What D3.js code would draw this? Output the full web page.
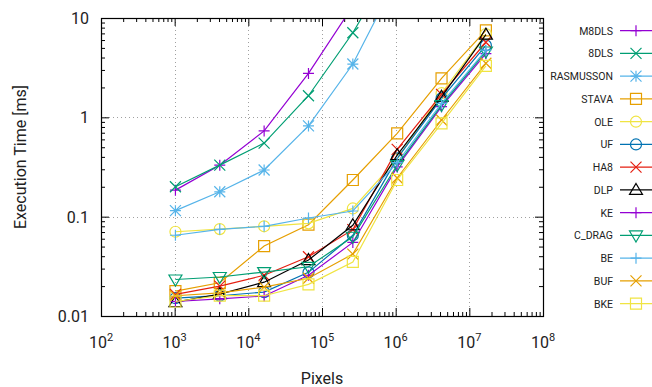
<!DOCTYPE html>
<html>
<head>
<meta charset="utf-8">
<script src="https://cdn.jsdelivr.net/npm/d3@7"></script>
<style>
  body { margin: 0; background: #fff; }
  svg { font-family: Roboto, "Liberation Sans", sans-serif; }
</style>
</head>
<body>
<script>
// image sizes (pixels) used for every benchmark run
var pixels = [1024, 4096, 16384, 65536, 262144, 1048576, 4194304, 16777216];

// execution times in ms (values above 10 run off the top)
var m8dls     = [0.185, 0.33, 0.73, 2.77, 13.2];
var dls8      = [0.20, 0.33, 0.55, 1.65, 7.1, 41];
var rasmusson = [0.115, 0.178, 0.295, 0.82, 3.44, 25.5];
var stava     = [0.0178, 0.0216, 0.0506, 0.083, 0.234, 0.69, 2.47, 7.5];
var ole       = [0.0705, 0.075, 0.080, 0.0857, 0.121, 0.38, 1.75, 6.9];
var uf        = [0.0151, 0.016, 0.0174, 0.0275, 0.065, 0.386, 1.55, 5.3];
var ha8       = [0.0165, 0.020, 0.0257, 0.0395, 0.074, 0.476, 1.70, 5.7];
var dlp       = [0.0138, 0.0166, 0.0219, 0.0366, 0.082, 0.417, 1.61, 6.8];
var ke        = [0.014, 0.0149, 0.0159, 0.0257, 0.055, 0.317, 1.28, 4.37];
var cdrag     = [0.0233, 0.0247, 0.0277, 0.0313, 0.0628, 0.331, 1.33, 4.6];
var be        = [0.065, 0.0746, 0.080, 0.097, 0.114, 0.35, 1.38, 4.75];
var buf       = [0.016, 0.0171, 0.0195, 0.024, 0.042, 0.245, 0.94, 3.5];
var bke       = [0.014, 0.016, 0.016, 0.0208, 0.035, 0.234, 0.87, 3.3];

var names = ['M8DLS', '8DLS', 'RASMUSSON', 'STAVA', 'OLE', 'UF', 'HA8', 'DLP', 'KE', 'C_DRAG', 'BE', 'BUF', 'BKE'];
var values = [m8dls, dls8, rasmusson, stava, ole, uf, ha8, dlp, ke, cdrag, be, buf, bke];

// gnuplot default palette, cycling
var colors = ['#9400d3', '#009e73', '#56b4e9', '#e69f00', '#f0e442', '#0072b2', '#e51e10', '#000000',
	'#9400d3', '#009e73', '#56b4e9', '#e69f00', '#f0e442'];
var symbols = ['plus', 'cross', 'star', 'square', 'circle', 'circle', 'cross', 'triup',
	'plus', 'tridown', 'plus', 'cross', 'square'];

var xTicks = [1e2, 1e3, 1e4, 1e5, 1e6, 1e7, 1e8];
var yTicks = [0.01, 0.1, 1, 10];
var yTickLabels = ['0.01', '0.1', '1', '10'];

var width = 652, height = 387;
// plot box (note: "top" would clash with window.top)
var pLeft = 101, pRight = 543, pTop = 18, pBottom = 316;

var x = d3.scaleLog().domain([1e2, 1e8]).range([pLeft, pRight]);
var y = d3.scaleLog().domain([0.01, 10]).range([pBottom, pTop]);

var svg = d3.select('body').append('svg')
	.attr('width', width)
	.attr('height', height);

svg.append('defs').append('clipPath').attr('id', 'plot')
	.append('rect')
	.attr('x', pLeft).attr('y', pTop)
	.attr('width', pRight - pLeft).attr('height', pBottom - pTop);

// dotted grid on the inner decades
var grid = svg.append('g')
	.attr('stroke', '#a0a0a0')
	.attr('stroke-width', 1)
	.attr('stroke-dasharray', '1,3');
grid.selectAll('.gx').data(xTicks.slice(1, -1)).enter().append('line')
	.attr('x1', function(d) { return Math.round(x(d)) + 0.5; })
	.attr('x2', function(d) { return Math.round(x(d)) + 0.5; })
	.attr('y1', pTop).attr('y2', pBottom);
grid.selectAll('.gy').data(yTicks.slice(1, -1)).enter().append('line')
	.attr('y1', function(d) { return Math.round(y(d)) + 0.5; })
	.attr('y2', function(d) { return Math.round(y(d)) + 0.5; })
	.attr('x1', pLeft).attr('x2', pRight);

// minor tick positions 2..9 per decade
function minors(lo, hi) {
	var out = [];
	for (var e = lo; e < hi; e++)
		for (var m = 2; m <= 9; m++) out.push(m * Math.pow(10, e));
	return out;
}

// inward ticks on all four sides, like gnuplot mirror
function tickAxis(axisFn, scale, vals, size, tx, ty) {
	var g = svg.append('g')
		.attr('transform', 'translate(' + tx + ',' + ty + ')')
		.call(axisFn(scale).tickValues(vals).tickSizeInner(-size).tickSizeOuter(0).tickFormat(''));
	g.select('.domain').remove();
	g.selectAll('line').attr('stroke', '#000');
}
tickAxis(d3.axisBottom, x, xTicks, 8, 0, pBottom);
tickAxis(d3.axisBottom, x, minors(2, 8), 4, 0, pBottom);
tickAxis(d3.axisTop, x, xTicks, 8, 0, pTop);
tickAxis(d3.axisTop, x, minors(2, 8), 4, 0, pTop);
tickAxis(d3.axisLeft, y, yTicks, 8, pLeft, 0);
tickAxis(d3.axisLeft, y, minors(-2, 1), 4, pLeft, 0);
tickAxis(d3.axisRight, y, yTicks, 8, pRight, 0);
tickAxis(d3.axisRight, y, minors(-2, 1), 4, pRight, 0);

// series lines and points
var line = d3.line()
	.x(function(d, i) { return x(pixels[i]); })
	.y(function(d) { return y(d); });

function symbolPath(type) {
	var s = 5.5;
	switch (type) {
		case 'plus': return 'M' + (-s) + ',0H' + s + 'M0,' + (-s) + 'V' + s;
		case 'cross': return 'M' + (-s) + ',' + (-s) + 'L' + s + ',' + s + 'M' + (-s) + ',' + s + 'L' + s + ',' + (-s);
		case 'star': return 'M' + (-s) + ',0H' + s + 'M0,' + (-s) + 'V' + s +
			'M' + (-s) + ',' + (-s) + 'L' + s + ',' + s + 'M' + (-s) + ',' + s + 'L' + s + ',' + (-s);
		case 'square': return 'M' + (-s) + ',' + (-s) + 'H' + s + 'V' + s + 'H' + (-s) + 'Z';
		case 'circle': return 'M' + s + ',0A' + s + ',' + s + ' 0 1,1 ' + (-s) + ',0A' + s + ',' + s + ' 0 1,1 ' + s + ',0Z';
		case 'triup': return 'M0,' + (-s - 1) + 'L' + (s + 1) + ',' + (s - 1) + 'H' + (-s - 1) + 'Z';
		case 'tridown': return 'M0,' + (s + 1) + 'L' + (s + 1) + ',' + (-s + 1) + 'H' + (-s - 1) + 'Z';
	}
}

var plot = svg.append('g').attr('clip-path', 'url(#plot)');
values.forEach(function(vals, k) {
	var g = plot.append('g');
	g.append('path')
		.datum(vals)
		.attr('d', line)
		.attr('fill', 'none')
		.attr('stroke', colors[k])
		.attr('stroke-width', 1.2);
	g.selectAll('path.pt').data(vals).enter().append('path')
		.attr('class', 'pt')
		.attr('transform', function(d, i) { return 'translate(' + x(pixels[i]) + ',' + y(d) + ')'; })
		.attr('d', symbolPath(symbols[k]))
		.attr('fill', 'none')
		.attr('stroke', colors[k])
		.attr('stroke-width', 1.2);
});

// frame
svg.append('rect')
	.attr('x', pLeft + 0.5).attr('y', pTop + 0.5)
	.attr('width', pRight - pLeft).attr('height', pBottom - pTop)
	.attr('fill', 'none')
	.attr('stroke', '#000')
	.attr('stroke-width', 1.2);

// tick labels
svg.selectAll('.ylab').data(yTicks).enter().append('text')
	.attr('x', 89)
	.attr('y', function(d) { return y(d) + 6; })
	.attr('text-anchor', 'end')
	.attr('font-size', 16)
	.attr('fill', '#222')
	.text(function(d, i) { return yTickLabels[i]; });

var xl = svg.selectAll('.xlab').data(xTicks).enter().append('text')
	.attr('x', function(d) { return x(d); })
	.attr('y', 348)
	.attr('text-anchor', 'middle')
	.attr('font-size', 16)
	.attr('fill', '#222');
xl.append('tspan').text('10');
xl.append('tspan')
	.attr('dy', -7)
	.attr('font-size', 11)
	.text(function(d) { return Math.round(Math.log10(d)); });

// axis titles
svg.append('text')
	.attr('x', 322).attr('y', 384)
	.attr('text-anchor', 'middle')
	.attr('font-size', 16)
	.attr('fill', '#222')
	.text('Pixels');
svg.append('text')
	.attr('transform', 'translate(26,157) rotate(-90)')
	.attr('text-anchor', 'middle')
	.attr('font-size', 16)
	.attr('fill', '#222')
	.text('Execution Time [ms]');

// legend
var legend = svg.append('g');
names.forEach(function(name, k) {
	var ly = 30.7 + k * 22.75;
	legend.append('text')
		.attr('x', 613).attr('y', ly + 4)
		.attr('text-anchor', 'end')
		.attr('font-size', 10.5)
		.attr('fill', '#222')
		.text(name);
	legend.append('line')
		.attr('x1', 620).attr('x2', 660)
		.attr('y1', ly).attr('y2', ly)
		.attr('stroke', colors[k])
		.attr('stroke-width', 1.2);
	legend.append('path')
		.attr('transform', 'translate(636,' + ly + ')')
		.attr('d', symbolPath(symbols[k]))
		.attr('fill', 'none')
		.attr('stroke', colors[k])
		.attr('stroke-width', 1.2);
});
</script>
</body>
</html>
